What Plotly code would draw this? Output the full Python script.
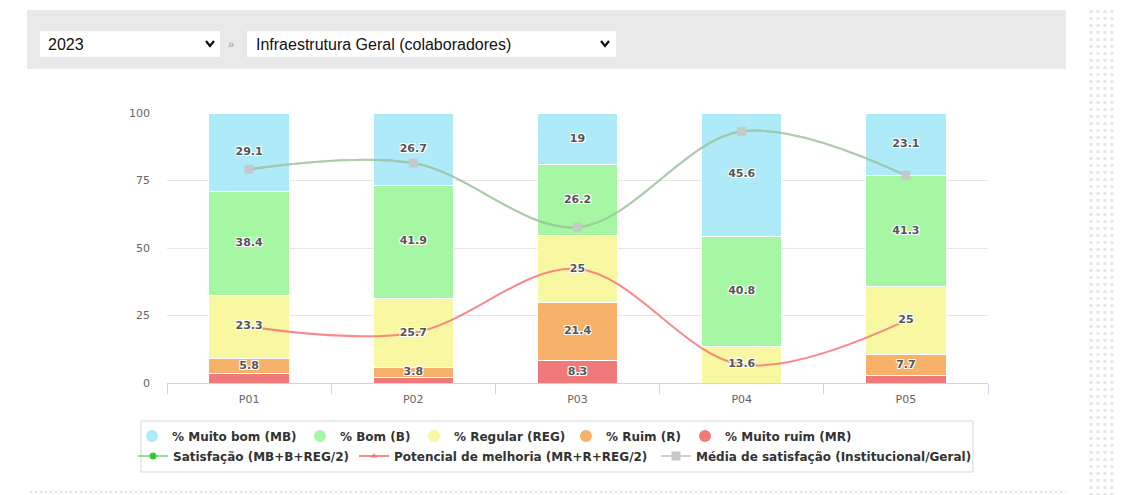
import plotly.graph_objects as go

# dados
categorias = ['P01', 'P02', 'P03', 'P04', 'P05']
muito_bom = [29.1, 26.7, 19, 45.6, 23.1]
bom = [38.4, 41.9, 26.2, 40.8, 41.3]
regular = [23.3, 25.7, 25, 13.6, 25]
ruim = [5.8, 3.8, 21.4, 0, 7.7]
muito_ruim = [3.4, 1.9, 8.3, 0, 2.9]
satisfacao = [79.15, 81.45, 57.7, 93.2, 76.9]
potencial = [20.85, 18.55, 42.2, 6.8, 23.1]
media_satisfacao = [79.15, 81.45, 57.7, 93.2, 76.9]
y_ticks = [0, 25, 50, 75, 100]

# a página tem margem de 8px no body: tudo é deslocado de 8px
OFF = 8
W, H = 1124 - OFF, 495 - OFF
L, R, T, B = 159, 136, 105, 112


def px(x):
    return (x - OFF - L) / (W - L - R)


def py(y):
    return (H - B - (y - OFF)) / (H - T - B)


series = [  # de baixo para cima
    ('% Muito ruim (MR)', muito_ruim, '#f07a7a'),
    ('% Ruim (R)', ruim, '#f8b169'),
    ('% Regular (REG)', regular, '#f8f8a3'),
    ('% Bom (B)', bom, '#a6f7a3'),
    ('% Muito bom (MB)', muito_bom, '#aeeaf8'),
]

fig = go.Figure()
base = [0] * len(categorias)
lab_x, lab_y, lab_t = [], [], []
for nome, vals, cor in series:
    fig.add_trace(go.Bar(x=categorias, y=vals, name=nome, marker_color=cor,
                         marker_line_color='white', marker_line_width=1,
                         showlegend=False, hoverinfo='y+name'))
    for i, v in enumerate(vals):
        if v >= 3.5:
            lab_x.append(categorias[i])
            lab_y.append(base[i] + v / 2)
            lab_t.append(f'{v:g}')
        base[i] += v

# legenda: um bloco por item (posição do texto na referência)
leg_pos = [172, 340, 454, 606, 725, 173, 394, 696]
leg_row = [436] * 5 + [456] * 3
leg_names = ['legend'] + [f'legend{i}' for i in range(2, 9)]

# linhas
fig.add_trace(go.Scatter(x=categorias, y=satisfacao, name='Satisfação (MB+B+REG/2)',
                         mode='lines+markers', line=dict(color='rgba(40,200,40,0.5)', width=2, shape='spline'),
                         marker=dict(color='#33cc33', size=7), legend=leg_names[5]))
fig.add_trace(go.Scatter(x=categorias, y=potencial, name='Potencial de melhoria (MR+R+REG/2)',
                         mode='lines+markers', line=dict(color='rgba(245,110,110,0.8)', width=2, shape='spline'),
                         marker=dict(color='rgba(245,110,110,0.8)', size=6, symbol='triangle-up'),
                         legend=leg_names[6]))
fig.add_trace(go.Scatter(x=categorias, y=media_satisfacao, name='Média de satisfação (Institucional/Geral)',
                         mode='lines+markers', line=dict(color='rgba(190,190,190,0.7)', width=2, shape='spline'),
                         marker=dict(color='#c8c8c8', size=9, symbol='square'), legend=leg_names[7]))

# rótulos
fig.add_trace(go.Scatter(x=lab_x, y=lab_y, text=lab_t, mode='text', showlegend=False, hoverinfo='skip',
                         textfont=dict(family='DejaVu Sans', size=11, color='#555', weight='bold',
                                       shadow='1px 1px 0 #fff, -1px -1px 0 #fff, 1px -1px 0 #fff, -1px 1px 0 #fff')))

# entradas da legenda (círculos)
for k, (nome, vals, cor) in enumerate(series[::-1]):
    fig.add_trace(go.Scatter(x=[None], y=[None], mode='markers', name=nome,
                             marker=dict(color=cor, size=12), legend=leg_names[k]))

leg_font = dict(family='DejaVu Sans, Verdana, sans-serif', size=12, color='#333', weight='bold')
legends = {}
for nome, xs, ys in zip(leg_names, leg_pos, leg_row):
    legends[nome] = dict(orientation='h', x=px(xs - 40), y=py(ys), xanchor='left', yanchor='middle',
                         font=leg_font, bgcolor='rgba(0,0,0,0)', borderwidth=0)

shapes = [
    # barra de filtros
    dict(type='rect', x0=px(27), x1=px(1066), y0=py(10), y1=py(69), fillcolor='#e9e9e9', line_width=0),
    dict(type='rect', x0=px(40), x1=px(220), y0=py(31), y1=py(57), fillcolor='white', line_width=0),
    dict(type='rect', x0=px(247), x1=px(616), y0=py(31), y1=py(57), fillcolor='white', line_width=0),
    dict(type='path', path=f'M {px(206)} {py(41)} L {px(210)} {py(46)} L {px(214)} {py(41)}',
         line=dict(color='#111', width=2.2)),
    dict(type='path', path=f'M {px(601)} {py(41)} L {px(605)} {py(46)} L {px(609)} {py(41)}',
         line=dict(color='#111', width=2.2)),
    # caixa da legenda
    dict(type='rect', x0=px(141), x1=px(973), y0=py(421), y1=py(472), fillcolor='rgba(0,0,0,0)',
         line=dict(color='#d6d6d6', width=1)),
    # borda pontilhada inferior
    dict(type='line', x0=px(30), x1=px(1066), y0=py(492), y1=py(492),
         line=dict(color='#e2e2e2', width=2, dash='2px,3px')),
]
for xx in range(1091, 1124, 7):
    shapes.append(dict(type='line', x0=px(xx), x1=px(xx), y0=py(10), y1=py(495),
                       line=dict(color='#e6e6e6', width=3, dash='3px,4px')))

annotations = [
    dict(x=px(46), y=py(44), text='2023', showarrow=False, xanchor='left', yanchor='middle',
         font=dict(family='Liberation Sans, Arial', size=16, color='#111')),
    dict(x=px(231), y=py(44.5), text='»', showarrow=False, xanchor='center', yanchor='middle',
         font=dict(family='Liberation Sans, Arial', size=11, color='#999')),
    dict(x=px(254), y=py(44), text='Infraestrutura Geral (colaboradores)', showarrow=False,
         xanchor='left', yanchor='middle', font=dict(family='Liberation Sans, Arial', size=16, color='#111')),
]
for a in annotations:
    a.update(xref='paper', yref='paper')

fig.update_layout(
    width=W, height=H, margin=dict(l=L, r=R, t=T, b=B),
    barmode='stack', bargap=0.51,
    paper_bgcolor='white', plot_bgcolor='white',
    font=dict(family='DejaVu Sans', size=11, color='#666'),
    shapes=[dict(s, xref='paper', yref='paper', layer='below') for s in shapes],
    annotations=annotations,
    xaxis=dict(showline=True, linecolor='#ccd6eb', linewidth=1, ticks='outside', ticklen=10,
               tickcolor='#ccd6eb', tickson='boundaries', showgrid=False, ticklabelstandoff=6,
               tickfont=dict(size=11, color='#666')),
    yaxis=dict(range=[0, 100], tickvals=y_ticks, gridcolor='#e6e6e6', zeroline=False,
               ticklabelstandoff=16, tickfont=dict(size=11, color='#666'), fixedrange=True),
    **legends,
)

fig.write_html('out.html')
